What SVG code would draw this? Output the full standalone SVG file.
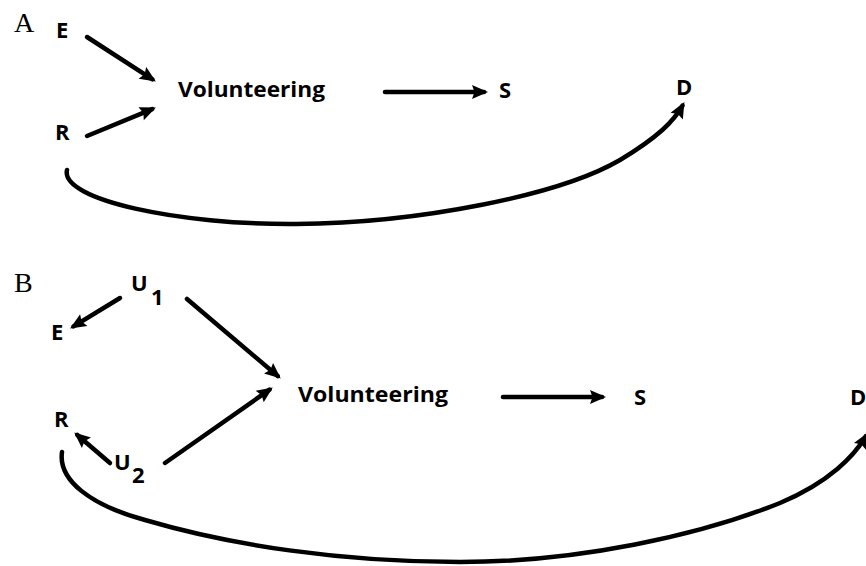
<svg xmlns="http://www.w3.org/2000/svg" width="866" height="566" viewBox="0 0 866 566">
  <style>
    .lbl { font-family: "Open Sans", "Liberation Sans", sans-serif; font-weight: 700; font-size: 22px; fill: #000; }
    .panel { font-family: "Liberation Serif", "DejaVu Serif", serif; font-size: 28px; fill: #000; }
    .edge { fill: none; stroke: #000; stroke-width: 4.5; stroke-linecap: round; marker-end: url(#ah); }
  </style>
  <defs>
    <marker id="ah" markerUnits="userSpaceOnUse" markerWidth="20" markerHeight="18" refX="12" refY="7" orient="auto" overflow="visible">
      <path d="M0,0 L16,7 L0,14 L2.5,7 Z" fill="#000"/>
    </marker>
  </defs>
  <rect width="866" height="566" fill="#fff"/>

  <!-- Panel A -->
  <g id="panelA-label"><text class="panel" x="14" y="32">A</text></g>
  <g id="A-E"><text class="lbl" x="56" y="38">E</text></g>
  <g id="A-R"><text class="lbl" x="55" y="140">R</text></g>
  <g id="A-Volunteering"><text class="lbl" x="178" y="97" textLength="147" lengthAdjust="spacingAndGlyphs">Volunteering</text></g>
  <g id="A-S"><text class="lbl" x="499" y="98">S</text></g>
  <g id="A-D"><text class="lbl" x="676" y="95">D</text></g>

  <!-- Panel B -->
  <g id="panelB-label"><text class="panel" x="14" y="292">B</text></g>
  <g id="B-U1"><text class="lbl" x="131" y="291">U</text><text class="lbl" x="151" y="305">1</text></g>
  <g id="B-E"><text class="lbl" x="51" y="340">E</text></g>
  <g id="B-R"><text class="lbl" x="54" y="427">R</text></g>
  <g id="B-U2"><text class="lbl" x="114" y="470">U</text><text class="lbl" x="132" y="483">2</text></g>
  <g id="B-Volunteering"><text class="lbl" x="298" y="402" textLength="150" lengthAdjust="spacingAndGlyphs">Volunteering</text></g>
  <g id="B-S"><text class="lbl" x="634" y="405">S</text></g>
  <g id="B-D"><text class="lbl" x="850" y="405">D</text></g>

  <g id="connectors">
    <!-- A -->
    <path class="edge" d="M87,37 L152.5,79.4"/>
    <path class="edge" d="M87,136 L152.2,109.1"/>
    <path class="edge" d="M385,92 L484,92"/>
    <path class="edge" d="M67,170 C60,200 180,225 296,224 C420,223 560,195 620,160 C658,137 674,121 682.5,105.6"/>
    <!-- B -->
    <path class="edge" d="M120,298 L73.5,326.4"/>
    <path class="edge" d="M187,299 L277.7,376"/>
    <path class="edge" d="M165,463 L269.5,389.7"/>
    <path class="edge" d="M110,463 L77.3,435"/>
    <path class="edge" d="M503,397 L602,397"/>
    <path class="edge" d="M62,452 C58,480 90,505 145,520 C230,545 340,562 460,562 C580,562 700,535 780,503 C830,482 855,455 866,436"/>
  </g>
</svg>
